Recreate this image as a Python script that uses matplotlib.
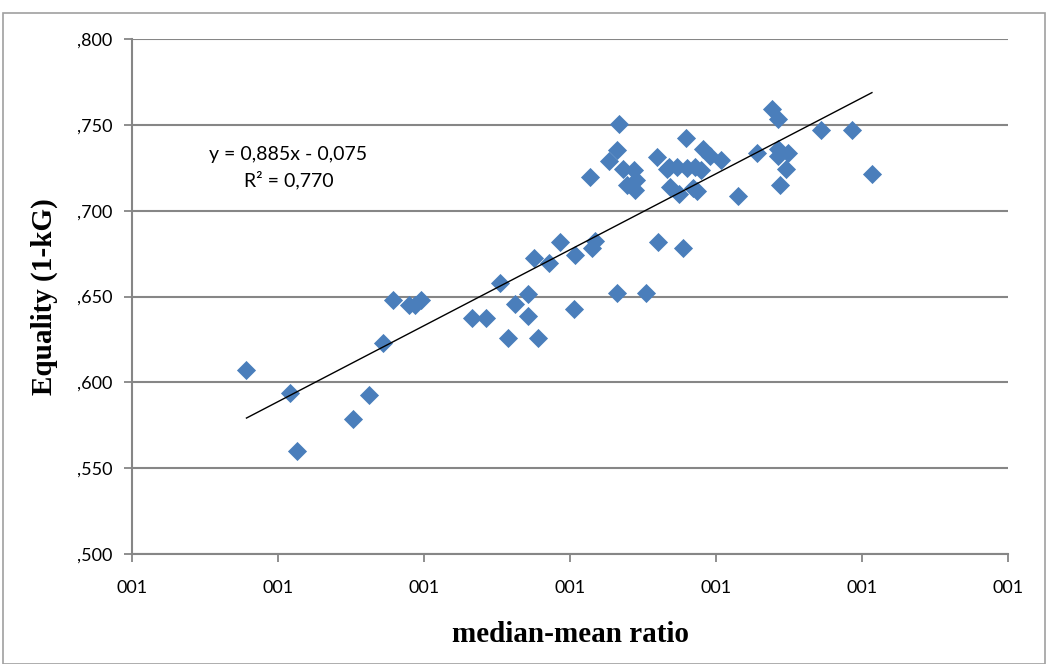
import matplotlib
matplotlib.use("Agg")
import matplotlib.pyplot as plt
from matplotlib.patches import Rectangle
import numpy as np

# median-mean ratio (x) and equality 1-kG (y)
ratio = [0.7392, 0.7542, 0.7565, 0.7758, 0.7810, 0.7858, 0.7893, 0.7950, 0.7970, 0.7989,
         0.8165, 0.8211, 0.8261, 0.8287, 0.8312, 0.8355, 0.8355, 0.8378, 0.8392, 0.8429,
         0.8467, 0.8517, 0.8514, 0.8576, 0.8585, 0.8570, 0.8669, 0.8662, 0.8635, 0.8681,
         0.8720, 0.8725, 0.8695, 0.8722, 0.8660, 0.8759, 0.8799, 0.8803, 0.8888, 0.8898,
         0.8838, 0.8832, 0.8866, 0.8899, 0.8928, 0.8948, 0.8843, 0.8872, 0.8922, 0.8934,
         0.8957, 0.8980, 0.9017, 0.9076, 0.9139, 0.9191, 0.9213, 0.9213, 0.9248, 0.9213,
         0.9239, 0.9219, 0.9360, 0.9465, 0.9534]
equality = [0.6070, 0.5940, 0.5598, 0.5784, 0.5924, 0.6230, 0.6480, 0.6450, 0.6450, 0.6480,
            0.6373, 0.6373, 0.6581, 0.6256, 0.6456, 0.6513, 0.6386, 0.6727, 0.6256, 0.6694,
            0.6817, 0.6743, 0.6425, 0.6782, 0.6825, 0.7197, 0.7507, 0.7353, 0.7292, 0.7240,
            0.7234, 0.7177, 0.7152, 0.7123, 0.6519, 0.6519, 0.7312, 0.6820, 0.6782, 0.7421,
            0.7253, 0.7240, 0.7256, 0.7250, 0.7253, 0.7236, 0.7139, 0.7099, 0.7133, 0.7113,
            0.7361, 0.7318, 0.7298, 0.7084, 0.7337, 0.7595, 0.7536, 0.7357, 0.7337, 0.7318,
            0.7244, 0.7152, 0.7468, 0.7468, 0.7211]

slope = 0.885
intercept = -0.075
eq_label = "y = 0,885x - 0,075"
r2_label = "R² = 0,770"

x_ticks = [0.70, 0.75, 0.80, 0.85, 0.90, 0.95, 1.00]
x_tick_labels = ["001"] * 7
y_ticks = [0.500, 0.550, 0.600, 0.650, 0.700, 0.750, 0.800]
y_tick_labels = [",500", ",550", ",600", ",650", ",700", ",750", ",800"]

W, H = 1048, 664
fig = plt.figure(figsize=(W / 100, H / 100), dpi=100)
fig.patches.append(Rectangle((3 / W, 0), 1042 / W, 651 / H, transform=fig.transFigure,
                             fill=False, edgecolor="#a0a0a0", linewidth=1.2))
ax = fig.add_axes([132 / W, 1 - 554 / H, 876 / W, 515 / H])

ax.set_xlim(0.70, 1.00)
ax.set_ylim(0.500, 0.800)
ax.set_yticks(y_ticks)
ax.set_yticklabels(y_tick_labels)
ax.set_xticks(x_ticks)
ax.set_xticklabels(x_tick_labels)
ax.yaxis.grid(True, color="#868686", linewidth=1.5)
ax.set_axisbelow(True)
for s in ["top", "right"]:
    ax.spines[s].set_visible(False)
for s in ["left", "bottom"]:
    ax.spines[s].set_color("#868686")
    ax.spines[s].set_linewidth(1.5)
ax.tick_params(axis="both", colors="#868686", length=6, width=1.3, labelcolor="black",
               labelsize=13)
ax.tick_params(axis="x", pad=13)
ax.tick_params(axis="y", pad=8)
for lab in ax.get_xticklabels() + ax.get_yticklabels():
    lab.set_family("Lato")

ax.scatter(ratio, equality, marker="D", s=95, color="#4a7ebb", zorder=3, linewidths=0)

xl = np.array([min(ratio), max(ratio)])
ax.plot(xl, slope * xl + intercept, color="black", linewidth=1.0, zorder=4)

ax.text(0.178, 0.775, eq_label, transform=ax.transAxes, ha="center",
        va="center", fontsize=14, family="Lato")
ax.text(0.179, 0.726, r2_label, transform=ax.transAxes, ha="center",
        va="center", fontsize=14, family="Lato")

ax.set_xlabel("median-mean ratio", family="Liberation Serif", fontweight="bold",
              fontsize=21, labelpad=18)
ax.set_ylabel("Equality (1-kG)", family="Liberation Serif", fontweight="bold",
              fontsize=21, labelpad=14)

fig.savefig("out.png", dpi=100)
